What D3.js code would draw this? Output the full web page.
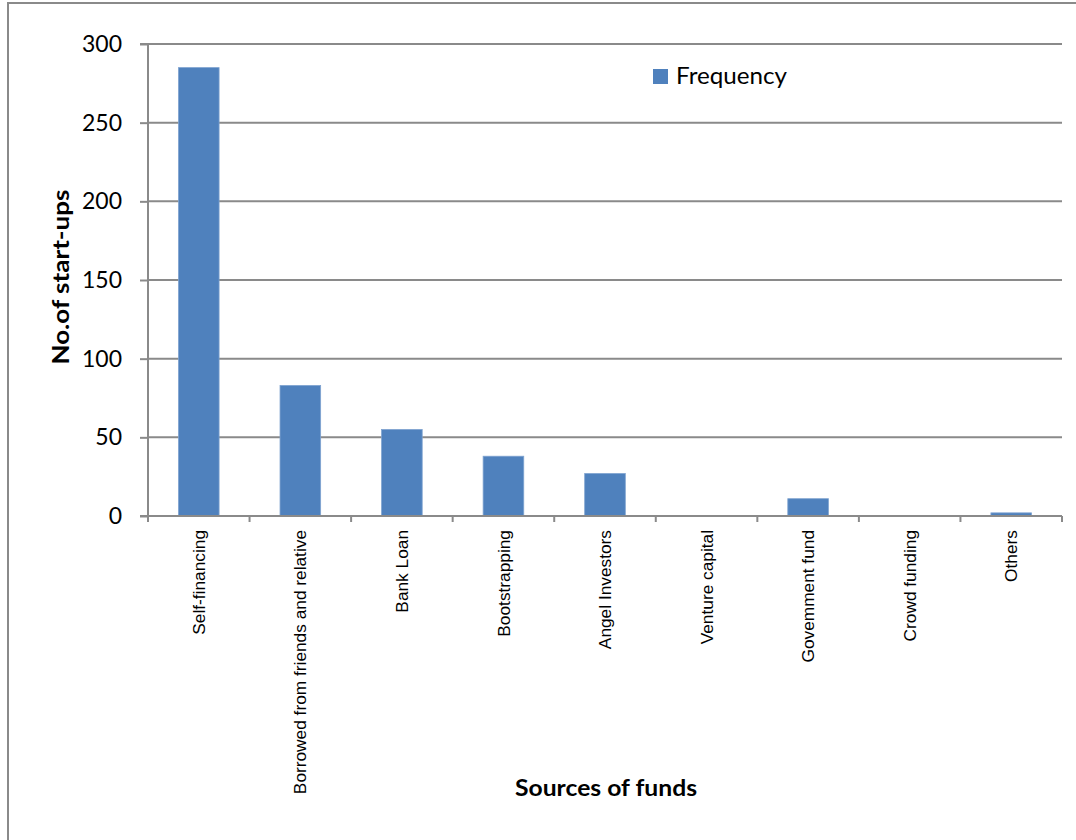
<!DOCTYPE html>
<html>
<head>
<meta charset="utf-8">
<script src="https://cdn.jsdelivr.net/npm/d3@7"></script>
<style>
  html, body { margin: 0; padding: 0; background: #fff; }
  svg { display: block; }
</style>
</head>
<body>
<script>
// Sources of funds used by start-ups
const categories = [
  "Self-financing",
  "Borrowed from friends and relative",
  "Bank Loan",
  "Bootstrapping",
  "Angel Investors",
  "Venture capital",
  "Govemment fund",
  "Crowd funding",
  "Others"
];
const frequency = [285, 83, 55, 38, 27, 0, 11, 0, 2];
const yTicks = [0, 50, 100, 150, 200, 250, 300];
const seriesName = "Frequency";

const W = 1076, H = 840;
const margin = { left: 148, right: 1062, top: 44, bottom: 516 };
const barColor = "#4f81bd";
const gridColor = "#8a8a8a";
const uiFont = "Lato, 'Open Sans', sans-serif";

const svg = d3.select("body").append("svg")
  .attr("width", W).attr("height", H);

// chart frame (top and left edges fall inside the view)
svg.append("rect")
  .attr("x", 8).attr("y", 3)
  .attr("width", W + 20).attr("height", H + 20)
  .attr("fill", "#fff")
  .attr("stroke", gridColor).attr("stroke-width", 2);

const x = d3.scaleBand()
  .domain(categories)
  .range([margin.left, margin.right])
  .paddingInner(0.6)
  .paddingOuter(0.3);

const y = d3.scaleLinear()
  .domain([0, 300])
  .range([margin.bottom, margin.top]);

// horizontal gridlines
svg.append("g")
  .selectAll("line")
  .data(yTicks.filter(d => d > 0))
  .join("line")
  .attr("x1", margin.left).attr("x2", margin.right)
  .attr("y1", d => y(d)).attr("y2", d => y(d))
  .attr("stroke", gridColor).attr("stroke-width", 2);

// bars
svg.append("g")
  .selectAll("rect")
  .data(categories.map((c, i) => ({ c, v: frequency[i] })))
  .join("rect")
  .attr("x", d => x(d.c))
  .attr("width", x.bandwidth())
  .attr("y", d => y(d.v))
  .attr("height", d => y(0) - y(d.v))
  .attr("fill", barColor)
  .attr("stroke", "#7fa3d0")
  .attr("stroke-width", d => d.v > 0 ? 0.8 : 0);

// y axis
const yAxis = svg.append("g")
  .attr("transform", `translate(${margin.left},0)`)
  .call(d3.axisLeft(y).tickValues(yTicks).tickSize(8).tickPadding(18));
yAxis.select(".domain").attr("stroke", gridColor).attr("stroke-width", 2)
  .attr("d", `M-8,${margin.top}H0V${margin.bottom + 6}`);
yAxis.selectAll(".tick line").attr("stroke", gridColor).attr("stroke-width", 2);
yAxis.selectAll(".tick text")
  .attr("font-family", uiFont)
  .attr("font-size", 23)
  .attr("fill", "#000");

// x axis with tick marks at category boundaries
const boundaries = d3.range(categories.length + 1)
  .map(i => margin.left + i * (margin.right - margin.left) / categories.length);
const xg = svg.append("g");
xg.append("line")
  .attr("x1", margin.left - 8).attr("x2", margin.right)
  .attr("y1", margin.bottom).attr("y2", margin.bottom)
  .attr("stroke", gridColor).attr("stroke-width", 2);
xg.selectAll("line.tk")
  .data(boundaries)
  .join("line").attr("class", "tk")
  .attr("x1", d => d).attr("x2", d => d)
  .attr("y1", margin.bottom).attr("y2", margin.bottom + 6)
  .attr("stroke", gridColor).attr("stroke-width", 2);

// rotated category labels
xg.selectAll("text")
  .data(categories)
  .join("text")
  .attr("transform", d => `translate(${x(d) + x.bandwidth() / 2},${margin.bottom + 14}) rotate(-90)`)
  .attr("text-anchor", "end")
  .attr("dy", "0.35em")
  .attr("font-family", "'Liberation Sans', Arial, sans-serif")
  .attr("font-size", 17.3)
  .attr("fill", "#000")
  .text(d => d);

// axis titles
svg.append("text")
  .attr("transform", `translate(69,277) rotate(-90)`)
  .attr("text-anchor", "middle")
  .attr("font-family", uiFont)
  .attr("font-weight", "bold")
  .attr("font-size", 23)
  .attr("textLength", 175)
  .attr("lengthAdjust", "spacingAndGlyphs")
  .attr("fill", "#000")
  .text("No.of start-ups");

svg.append("text")
  .attr("x", 606).attr("y", 796)
  .attr("text-anchor", "middle")
  .attr("font-family", uiFont)
  .attr("font-weight", "bold")
  .attr("font-size", 23)
  .attr("textLength", 182)
  .attr("lengthAdjust", "spacingAndGlyphs")
  .attr("fill", "#000")
  .text("Sources of funds");

// legend
const lg = svg.append("g").attr("transform", "translate(653,69)");
lg.append("rect").attr("width", 15).attr("height", 15).attr("fill", barColor);
lg.append("text")
  .attr("x", 23).attr("y", 15)
  .attr("font-family", uiFont)
  .attr("font-size", 23)
  .attr("textLength", 111)
  .attr("lengthAdjust", "spacingAndGlyphs")
  .attr("fill", "#000")
  .text(seriesName);
</script>
</body>
</html>
